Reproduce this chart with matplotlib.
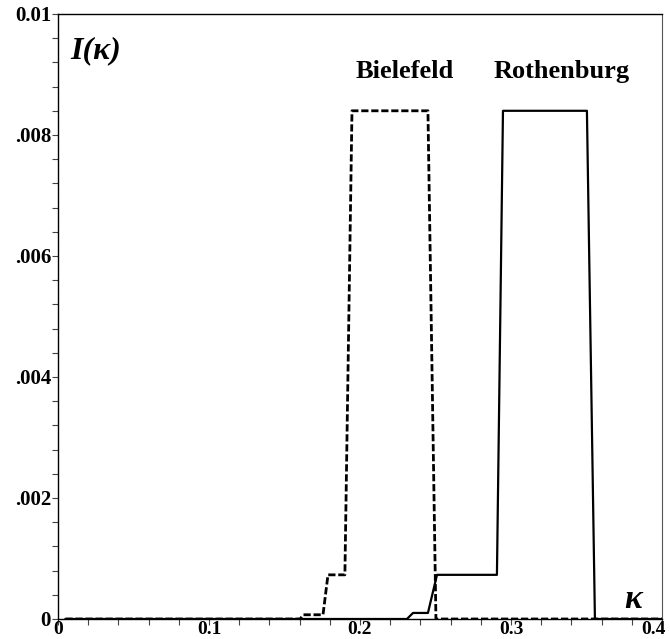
import numpy as np
import matplotlib
matplotlib.use("Agg")
import matplotlib.pyplot as plt
import matplotlib.transforms as mtransforms
from matplotlib.ticker import MultipleLocator

# step profiles of I(kappa) for the two towns
kappa_biel = [0.005, 0.1603, 0.1625, 0.1755, 0.1788, 0.190, 0.1947, 0.245, 0.2503, 0.4]
i_biel = [0.0, 0.0, 0.00007, 0.00007, 0.00073, 0.00073, 0.0084, 0.0084, 0.0, 0.0]

kappa_roth = [0.005, 0.2311, 0.2351, 0.245, 0.251, 0.2907, 0.2947, 0.3503, 0.3556, 0.4]
i_roth = [0.0, 0.0, 0.0001, 0.0001, 0.00073, 0.00073, 0.0084, 0.0084, 0.0, 0.0]

xticks = [0, 0.1, 0.2, 0.3, 0.4]
xlabels = ["0", "0.1", "0.2", "0.3", "0.4"]
yticks = [0, 0.002, 0.004, 0.006, 0.008, 0.01]
ylabels = ["0", ".002", ".004", ".006", ".008", "0.01"]

plt.rcParams["font.family"] = "Liberation Serif"
plt.rcParams["font.weight"] = "bold"

fig = plt.figure(figsize=(6.70, 6.39), dpi=100)
ax = fig.add_axes([0.0866, 0.0313, 0.9014, 0.9468])

ax.plot(kappa_roth, i_roth, color="black", lw=1.6)
ax.plot(kappa_biel, i_biel, color="black", lw=2.0, linestyle=(0, (2.6, 1.0)))

ax.set_xlim(0, 0.4)
ax.set_ylim(0, 0.01)
ax.set_xticks(xticks)
ax.set_xticklabels(xlabels, fontsize=14, fontweight="bold")
ax.set_yticks(yticks)
ax.set_yticklabels(ylabels, fontsize=15, fontweight="bold")
ax.xaxis.set_minor_locator(MultipleLocator(0.02))
ax.yaxis.set_minor_locator(MultipleLocator(0.0004))
ax.tick_params(which="both", direction="out", length=4, width=0.8, color="#444444")
ax.tick_params(axis="x", pad=-2.5)
ax.tick_params(axis="y", pad=1)

# pull the last x label inward so it stays inside the figure
last = ax.get_xticklabels()[-1]
last.set_transform(last.get_transform() +
                   mtransforms.ScaledTranslation(-9 / 100, 0, fig.dpi_scale_trans))

for side in ["left", "bottom", "top"]:
    ax.spines[side].set_linewidth(1.0)
ax.spines["right"].set_linewidth(0.8)
ax.spines["right"].set_color("#555555")

ax.text(0.008, 0.0094, "I(κ)", fontsize=23, ha="left", va="center",
        fontweight="bold", fontstyle="italic")
ax.text(0.2295, 0.00905, "Bielefeld", fontsize=19, ha="center", va="center", fontweight="bold")
ax.text(0.3335, 0.00905, "Rothenburg", fontsize=19, ha="center", va="center", fontweight="bold")
ax.text(0.381, 0.00032, "κ", fontsize=24, ha="center", va="center",
        fontweight="bold", fontstyle="italic")

fig.savefig("out.png", dpi=100)
